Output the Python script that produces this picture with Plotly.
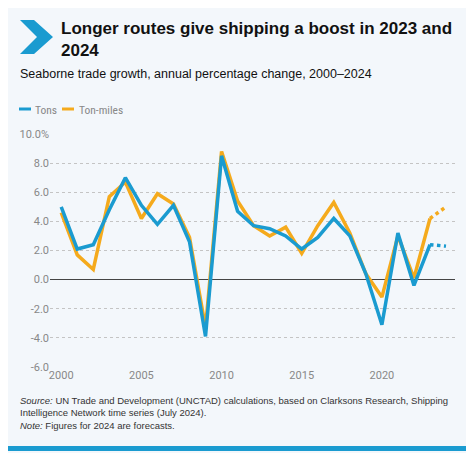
import plotly.graph_objects as go

years = list(range(2000, 2025))
tons = [5.0, 2.1, 2.4, 4.8, 7.0, 5.1, 3.8, 5.1, 2.6, -3.9, 8.5, 4.7, 3.7, 3.5, 3.0, 2.1, 2.9, 4.2, 3.0, 0.4, -3.1, 3.2, -0.4, 2.4, 2.3]
ton_miles = [4.6, 1.7, 0.7, 5.7, 6.7, 4.2, 5.9, 5.2, 2.9, -3.3, 8.8, 5.4, 3.7, 3.0, 3.6, 1.8, 3.7, 5.3, 3.2, 0.4, -1.2, 3.0, 0.1, 4.2, 5.0]
y_ticks = [-6, -4, -2, 0, 2, 4, 6, 8, 10]
y_labels = ["-6.0", "-4.0", "-2.0", "0.0", "2.0", "4.0", "6.0", "8.0", "10.0%"]

BLUE = "#1a9bd0"
ORANGE = "#f5aa1c"
DX, DY = -8, -7
W, H = 474, 453
ML, MT, MR, MB = 50 + DX, 133 + DY, 19 - DX, 87 - DY

fig = go.Figure()
for name, vals, col in [("Ton-miles", ton_miles, ORANGE), ("Tons", tons, BLUE)]:
    fig.add_trace(go.Scatter(x=years[:-1], y=vals[:-1], mode="lines", name=name,
                             line=dict(color=col, width=3.5), showlegend=False))
    fig.add_trace(go.Scatter(x=years[-2:], y=vals[-2:], mode="lines",
                             line=dict(color=col, width=3.5, dash="dot"), showlegend=False))

fig.update_layout(
    width=W, height=H, margin=dict(l=ML, r=MR, t=MT, b=MB),
    paper_bgcolor="#f3f7fb", plot_bgcolor="#f3f7fb",
    font=dict(family="Roboto, Arial, sans-serif", color="#888888", size=11),
    showlegend=False,
    xaxis=dict(range=[1999.3, 2024.56], tickvals=[2000, 2005, 2010, 2015, 2020],
               showgrid=False, zeroline=False, ticks="", tickfont=dict(size=11, color="#888")),
    yaxis=dict(range=[-6, 10], tickvals=y_ticks, ticktext=y_labels, showgrid=True,
               gridcolor="#c4c4c4", griddash="dot", gridwidth=1, zeroline=True,
               zerolinecolor="#444444", zerolinewidth=1.2, ticks="",
               tickfont=dict(size=11, color="#888")),
)
pw, ph = W - ML - MR, H - MT - MB
def px(x): return (x + DX - ML) / pw
def py(y): return 1 - (y + DY - MT) / ph
def pann(x, y, text, size, color="#111", bold=False, family="Liberation Sans, Arial, sans-serif"):
    fig.add_annotation(x=px(x), y=py(y), xref="paper", yref="paper",
                       xanchor="left", yanchor="top", showarrow=False, align="left",
                       text=(f"<b>{text}</b>" if bold else text),
                       font=dict(size=size, color=color, family=family))
fig.add_shape(type="path", xref="paper", yref="paper",
              path=" ".join([
                  f"M {px(20)} {py(19)}", f"L {px(34)} {py(19)}",
                  f"L {px(53)} {py(36)}", f"L {px(34)} {py(53)}",
                  f"L {px(20)} {py(53)}", f"L {px(37)} {py(36)}", "Z"]),
              fillcolor=BLUE, line=dict(width=0))
pann(59, 16, "Longer routes give shipping a boost in 2023 and<br>2024", 17, "#111", True)
pann(18, 64, "Seaborne trade growth, annual percentage change, 2000–2024", 12.5, "#111")
fig.add_shape(type="line", xref="paper", yref="paper", x0=px(19), x1=px(31), y0=py(108), y1=py(108),
              line=dict(color=BLUE, width=3))
fig.add_shape(type="line", xref="paper", yref="paper", x0=px(62), x1=px(74), y0=py(108), y1=py(108),
              line=dict(color=ORANGE, width=3))
pann(33, 100, "Tons", 11.5, "#888", family="Roboto Condensed, Roboto, sans-serif")
pann(77, 100, "Ton-miles", 11.5, "#888", family="Roboto Condensed, Roboto, sans-serif")
pann(18, 392, "<i>Source:</i> UN Trade and Development (UNCTAD) calculations, based on Clarksons Research, Shipping<br>Intelligence Network time series (July 2024).<br><i>Note:</i> Figures for 2024 are forecasts.", 9.5, "#333")
fig.add_shape(type="rect", xref="paper", yref="paper", x0=px(0), x1=px(482), y0=py(450), y1=py(445),
              fillcolor=BLUE, line=dict(width=0))
fig.write_html("out.html")
